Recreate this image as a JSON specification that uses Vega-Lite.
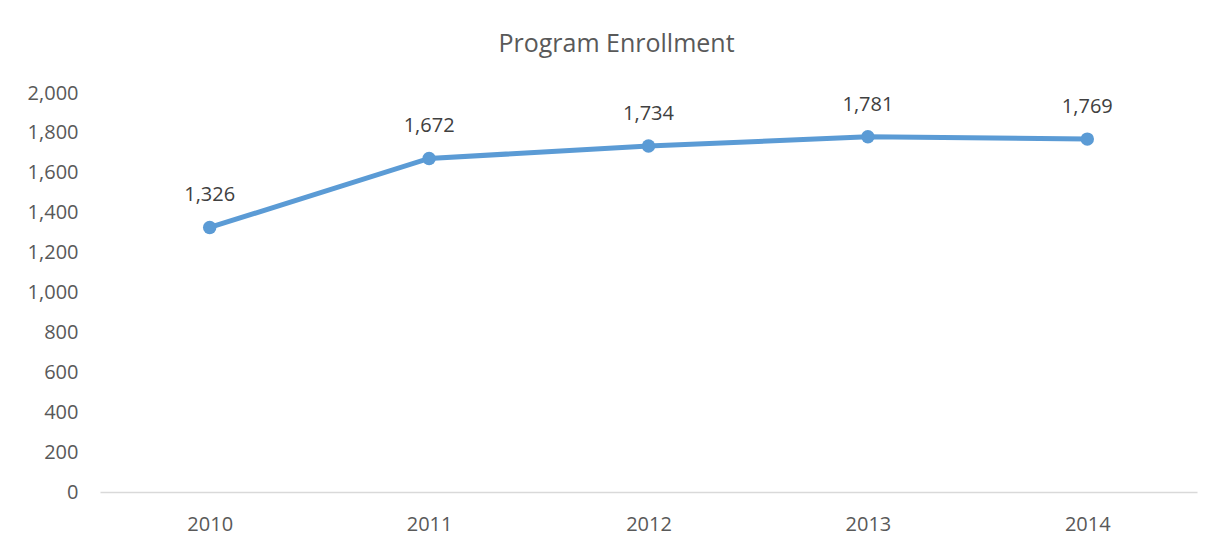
{
  "$schema": "https://vega.github.io/schema/vega-lite/v6.json",
  "width": 1097,
  "height": 399,
  "autosize": {"type": "none"},
  "padding": {"left": 100, "top": 93, "right": 12, "bottom": 62},
  "background": "white",
  "title": {
    "text": "Program Enrollment",
    "font": "Open Sans",
    "fontSize": 25,
    "fontWeight": "normal",
    "color": "#595959",
    "anchor": "middle",
    "offset": 26,
    "dx": -32
  },
  "config": {
    "view": {"stroke": null},
    "font": "Open Sans"
  },
  "data": {
    "values": [
      {"year": "2010", "enrollment": 1326},
      {"year": "2011", "enrollment": 1672},
      {"year": "2012", "enrollment": 1734},
      {"year": "2013", "enrollment": 1781},
      {"year": "2014", "enrollment": 1769}
    ]
  },
  "encoding": {
    "x": {
      "field": "year",
      "type": "ordinal",
      "scale": {"type": "point", "padding": 0.5},
      "axis": {
        "title": null,
        "labelAngle": 0,
        "labelFontSize": 20,
        "labelColor": "#595959",
        "labelPadding": 22,
        "ticks": false,
        "domainColor": "#d9d9d9",
        "domainWidth": 1.5
      }
    },
    "y": {
      "field": "enrollment",
      "type": "quantitative",
      "scale": {"domain": [0, 2000]},
      "axis": {
        "title": null,
        "values": [0, 200, 400, 600, 800, 1000, 1200, 1400, 1600, 1800, 2000],
        "format": ",.0f",
        "labelFontSize": 20,
        "labelColor": "#595959",
        "labelPadding": 22,
        "ticks": false,
        "domain": false,
        "grid": false
      }
    }
  },
  "layer": [
    {
      "mark": {"type": "line", "color": "#5B9BD5", "strokeWidth": 5, "strokeCap": "round"}
    },
    {
      "mark": {"type": "point", "filled": true, "color": "#5B9BD5", "size": 180, "opacity": 1}
    },
    {
      "mark": {"type": "text", "dy": -32, "fontSize": 20, "color": "#404040", "baseline": "middle"},
      "encoding": {"text": {"field": "enrollment", "type": "quantitative", "format": ",.0f"}}
    }
  ]
}
